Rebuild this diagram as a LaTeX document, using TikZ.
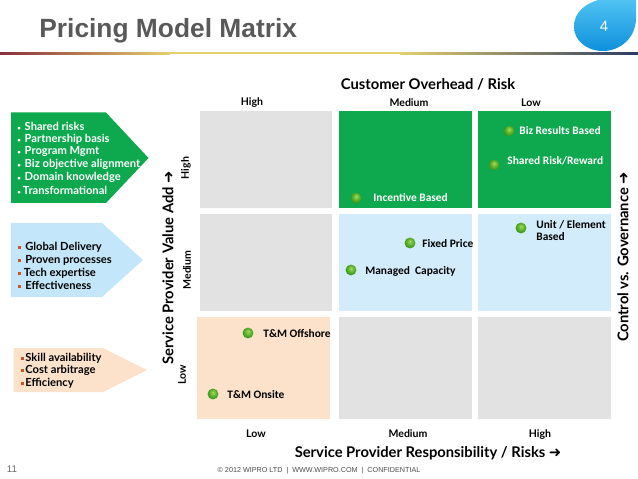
\documentclass[tikz,border=0pt]{standalone}
\usepackage{fontspec}
\setmainfont{Lato}
\newfontfamily\headfont{Liberation Sans}
\newfontfamily\dealfont{Carlito}
\newfontfamily\arrowfont{DejaVu Sans}
\usetikzlibrary{shadings}
\definecolor{cellgray}{HTML}{E2E2E2}
\definecolor{cellgreen}{HTML}{0EA84F}
\definecolor{cellblue}{HTML}{D2ECFB}
\definecolor{cellorange}{HTML}{FCE2CB}
\definecolor{tagblue}{HTML}{C3E6FA}
\definecolor{bulletred}{HTML}{C8552B}
\definecolor{rulered}{HTML}{8A2F3E}
\definecolor{ruleyellow}{HTML}{E6CF6C}
\definecolor{rulenavy}{HTML}{2B3A66}
\definecolor{droptop}{HTML}{4FC2F2}
\definecolor{dropbot}{HTML}{0E90DC}
\definecolor{peatop}{HTML}{A8DC5C}
\definecolor{peamid}{HTML}{5FB52E}
\definecolor{peaedge}{HTML}{2F8A1B}
\pgfdeclareradialshading{peashade}{\pgfpoint{0bp}{8bp}}{
    color(0bp)=(peatop);
    color(14bp)=(peamid);
    color(30bp)=(peaedge);
    color(50bp)=(peaedge)}
\newcommand{\sqitem}[1]{\makebox[#1pt][l]{\textcolor{bulletred}{\rule[0.25ex]{0.5ex}{0.5ex}}}}
\newcommand{\dotitem}[1]{\makebox[#1pt][l]{\scalebox{0.55}{\textbullet}}}
\newcommand{\axisarrow}{{\arrowfont\bfseries ➜}}
\tikzset{
    axislabel/.style={font=\fontsize{8.4}{10}\selectfont\bfseries},
    levellabel/.style={font=\fontsize{6}{7}\selectfont\bfseries},
    listlabel/.style={anchor=west, inner sep=0pt, font=\fontsize{6.35}{7}\selectfont\bfseries},
    deallabel/.style={anchor=west, inner sep=0pt, align=left, font=\fontsize{6.5}{6.8}\selectfont\dealfont\bfseries},
    dealdot/.style={circle, minimum size=6.2pt, inner sep=0pt, shading=peashade},
}
\begin{document}
\begin{tikzpicture}[x=0.02cm,y=-0.02cm]
    \useasboundingbox (0,0) rectangle (638,479);

    % header
    \node[anchor=west, inner sep=0pt, text=black!65, font=\fontsize{15}{16}\selectfont\headfont\bfseries] (title) at (39,31) {Pricing Model Matrix};
    \shade[left color=rulered, right color=ruleyellow] (0,52.5) rectangle (170,54.5);
    \fill[ruleyellow] (169,52.5) rectangle (401,54.5);
    \shade[left color=ruleyellow, right color=rulenavy] (400,52.5) rectangle (638,54.5);
    \shade[top color=droptop, bottom color=dropbot] (636,0) -- (636,18) .. controls (636,38) and (620,51) .. (603,51) .. controls (586,51) and (574,40) .. (574,27) .. controls (574,12) and (585,4) .. (598,0) -- cycle;
    \node[text=white, font=\fontsize{8.5}{9}\selectfont\headfont] (pagenum) at (604,26) {4};

    % matrix cells
    \fill[cellgray] (199.5,111) rectangle (332,208.5);
    \fill[cellgreen] (339,111) rectangle (472,208.5);
    \fill[cellgreen] (478,111) rectangle (611,208.5);
    \fill[cellgray] (199.5,214) rectangle (332,311);
    \fill[cellblue] (339,214) rectangle (472,311);
    \fill[cellblue] (478,214) rectangle (611,311);
    \fill[cellorange] (197,317) rectangle (329.5,419);
    \fill[cellgray] (339,317) rectangle (472,419);
    \fill[cellgray] (478,317) rectangle (611,419);

    % left tags
    \fill[cellgreen] (11,112.5) -- (106,112.5) -- (148.5,158) -- (106,203) -- (11,203) -- cycle;
    \fill[tagblue] (11,223) -- (102,223) -- (143,260) -- (102,297) -- (11,297) -- cycle;
    \fill[cellorange] (13.5,348) -- (103,348) -- (147,370) -- (103,392) -- (13.5,392) -- cycle;

    \node[listlabel, text=white] (riskA) at (17,126.5) {\dotitem{4.2}Shared risks};
    \node[listlabel, text=white] (riskB) at (17,139.5) {\dotitem{4.2}Partnership basis};
    \node[listlabel, text=white] (riskC) at (17,151.5) {\dotitem{4.2}Program Mgmt};
    \node[listlabel, text=white] (riskD) at (17,164.5) {\dotitem{4.2}Biz objective alignment};
    \node[listlabel, text=white] (riskE) at (17,177.5) {\dotitem{4.2}Domain knowledge};
    \node[listlabel, text=white] (riskF) at (17,190.5) {\dotitem{3.2}Transformational};

    \node[listlabel] (globalA) at (18,247.5) {\sqitem{4}Global Delivery};
    \node[listlabel] (globalB) at (18,260.5) {\sqitem{4}Proven processes};
    \node[listlabel] (globalC) at (18,273.5) {\sqitem{3.2}Tech expertise};
    \node[listlabel] (globalD) at (18,285.5) {\sqitem{4}Effectiveness};

    \node[listlabel] (skillA) at (21,358.5) {\sqitem{2.3}Skill availability};
    \node[listlabel] (skillB) at (21,370.5) {\sqitem{2.3}Cost arbitrage};
    \node[listlabel] (skillC) at (21,383.5) {\sqitem{2.3}Efficiency};

    % axes
    \node[axislabel] (custrisk) at (428,84) {Customer Overhead / Risk};
    \node[levellabel] (topHigh) at (252,103) {High};
    \node[levellabel] (topMed) at (409,103) {Medium};
    \node[levellabel] (topLow) at (531,103) {Low};

    \node[axislabel, rotate=90] (valueadd) at (168,268) {Service Provider Value Add \axisarrow};
    \node[levellabel, rotate=90] (leftHigh) at (186,168) {High};
    \node[levellabel, rotate=90] (leftMed) at (187,270) {Medium};
    \node[levellabel, rotate=90] (leftLow) at (182,375) {Low};

    \node[axislabel, rotate=90] (control) at (623,257) {Control vs. Governance \axisarrow};

    \node[levellabel] (botLow) at (256,434) {Low};
    \node[levellabel] (botMed) at (408,434) {Medium};
    \node[levellabel] (botHigh) at (540,435) {High};
    \node[axislabel] (resprisk) at (428,453) {Service Provider Responsibility / Risks \axisarrow};

    % pricing models
    \node[dealdot] (bizdot) at (509,131) {};
    \node[deallabel, text=white] (bizlabel) at (519,131) {Biz Results Based};
    \node[dealdot] (shareddot) at (494,165) {};
    \node[deallabel, text=white] (sharedlabel) at (507,161) {Shared Risk/Reward};
    \node[dealdot] (incentdot) at (356,198) {};
    \node[deallabel, text=white] (incentlabel) at (373,198) {Incentive Based};
    \node[dealdot] (unitdot) at (521,228) {};
    \node[deallabel] (unitlabel) at (536,231) {Unit / Element\\Based};
    \node[dealdot] (fixeddot) at (410,243) {};
    \node[deallabel] (fixedlabel) at (422,244) {Fixed Price};
    \node[dealdot] (manageddot) at (351,270) {};
    \node[deallabel] (managedlabel) at (365,271) {Managed\ \ Capacity};
    \node[dealdot] (offshoredot) at (248,333) {};
    \node[deallabel] (offshorelabel) at (263,334) {T\&M Offshore};
    \node[dealdot] (onsitedot) at (213,394) {};
    \node[deallabel] (onsitelabel) at (227,395) {T\&M Onsite};

    % footer
    \node[text=black!60, font=\fontsize{5.5}{6}\selectfont\headfont] (slidenum) at (12,469) {11};
    \node[text=black!70, font=\fontsize{4.1}{5}\selectfont\headfont] (copyright) at (319,471) {© 2012 WIPRO LTD \ |\ \ WWW.WIPRO.COM \ |\ \ CONFIDENTIAL};
\end{tikzpicture}
\end{document}
